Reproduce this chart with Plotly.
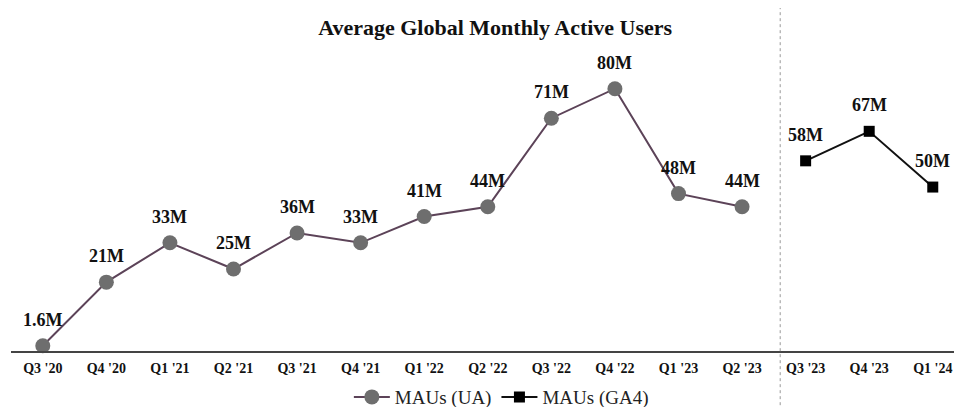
import plotly.graph_objects as go

quarters = ["Q3 '20", "Q4 '20", "Q1 '21", "Q2 '21", "Q3 '21", "Q4 '21", "Q1 '22",
            "Q2 '22", "Q3 '22", "Q4 '22", "Q1 '23", "Q2 '23", "Q3 '23", "Q4 '23", "Q1 '24"]
ua_quarters = quarters[:12]
ua_values = [1.6, 21, 33, 25, 36, 33, 41, 44, 71, 80, 48, 44]
ua_labels = ["1.6M", "21M", "33M", "25M", "36M", "33M", "41M", "44M", "71M", "80M", "48M", "44M"]
ga4_quarters = quarters[12:]
ga4_values = [58, 67, 50]
ga4_labels = ["58M", "67M", "50M"]

SERIF = "Liberation Serif"

fig = go.Figure()
fig.add_trace(go.Scatter(
    x=ua_quarters, y=ua_values, mode="lines+markers", name="MAUs (UA)",
    line=dict(color="#5c4358", width=2),
    marker=dict(color="#6e6e6e", size=15, symbol="circle"),
    cliponaxis=False,
))
fig.add_trace(go.Scatter(
    x=ga4_quarters, y=ga4_values, mode="lines+markers", name="MAUs (GA4)",
    line=dict(color="#111111", width=2),
    marker=dict(color="#000000", size=11, symbol="square"),
    cliponaxis=False,
))

annotations = []
for q, v, t in list(zip(ua_quarters, ua_values, ua_labels)) + list(zip(ga4_quarters, ga4_values, ga4_labels)):
    annotations.append(dict(x=q, y=v, text=t, showarrow=False, yshift=26,
                            font=dict(family=SERIF, size=18, color="#111111", weight="bold")))

fig.update_layout(
    width=946, height=399,
    margin=dict(l=3, r=0, t=42, b=56),
    paper_bgcolor="white", plot_bgcolor="white",
    title=dict(text="Average Global Monthly Active Users", x=0.515, xanchor="center",
               y=0.952, yanchor="middle",
               font=dict(family=SERIF, size=22, color="#111111", weight="bold")),
    showlegend=True,
    legend=dict(orientation="h", x=0.52, xanchor="center",
                yref="container", y=0.025, yanchor="middle",
                font=dict(family=SERIF, size=19, color="#222222"),
                bgcolor="rgba(0,0,0,0)", itemwidth=36),
    annotations=annotations,
    xaxis=dict(type="category", categoryorder="array", categoryarray=quarters,
               range=[-0.5, 14.334], showgrid=False, zeroline=False,
               showline=True, linecolor="#444444", linewidth=2, ticks="",
               automargin=False, ticklabelstandoff=3,
               tickfont=dict(family=SERIF, size=14, color="#111111", weight="bold")),
    yaxis=dict(range=[0, 91.8], visible=False, showgrid=False, zeroline=False),
    shapes=[dict(type="line", xref="x", yref="paper", x0=11.6, x1=11.6, y0=-0.18, y1=1.14,
                 line=dict(color="#999999", width=1, dash="dot"))],
)

fig.write_html("out.html")
